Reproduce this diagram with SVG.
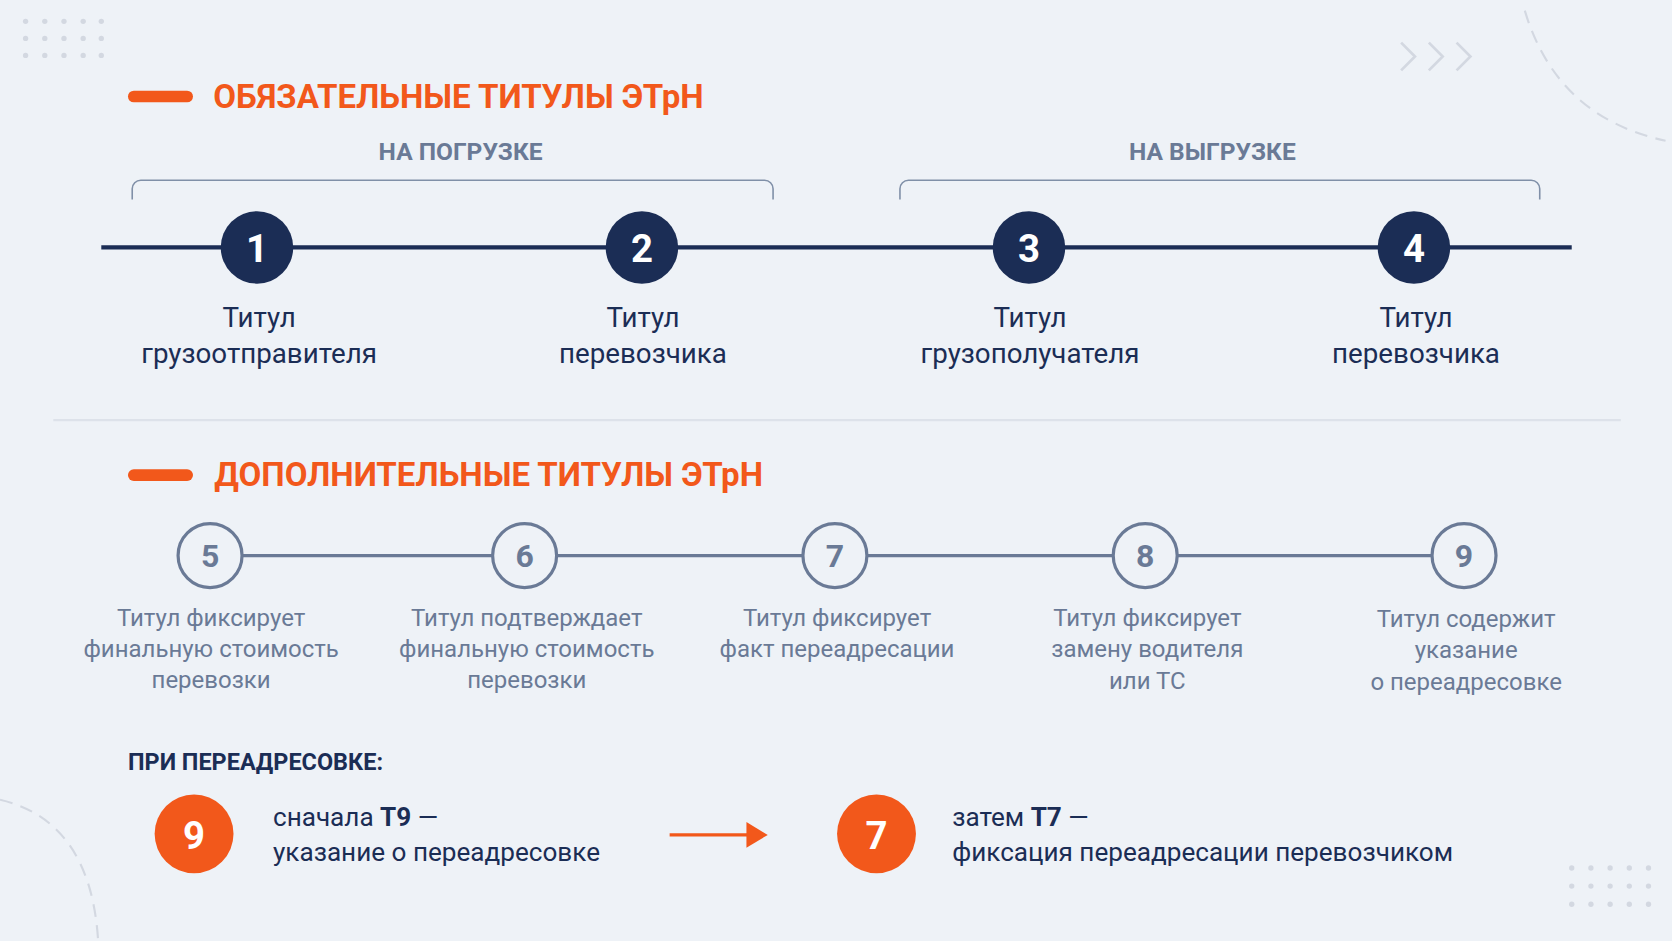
<svg xmlns="http://www.w3.org/2000/svg" width="1672" height="941" viewBox="0 0 1672 941">
<style>
.t{font-family:Roboto,"Liberation Sans",sans-serif}
.h{font-weight:700;font-size:31px;fill:#f2581b}
.sub{font-weight:700;font-size:23px;fill:#6a7a96;text-anchor:middle}
.lb{font-size:26px;fill:#1b2d55;text-anchor:middle}
.lb2{font-size:22.5px;fill:#6a7a96;text-anchor:middle}
.nd{fill:#1b2d55}
.nn{font-weight:700;font-size:36px;fill:#fff;text-anchor:middle}
.oc{fill:#eef2f7;stroke:#6a7a96;stroke-width:3}
.on{font-weight:700;font-size:30px;fill:#6a7a96;text-anchor:middle}
.dot{fill:#d3d8e1}
</style>
<rect width="1672" height="941" fill="#eef2f7"/>
<g transform="scale(1.0663)">
<g id="decor" fill="none">
<g class="dot">
<circle cx="24" cy="20" r="2.5"/><circle cx="42" cy="20" r="2.5"/><circle cx="60" cy="20" r="2.5"/><circle cx="78" cy="20" r="2.5"/><circle cx="95" cy="20" r="2.5"/>
<circle cx="24" cy="36" r="2.5"/><circle cx="42" cy="36" r="2.5"/><circle cx="60" cy="36" r="2.5"/><circle cx="78" cy="36" r="2.5"/><circle cx="95" cy="36" r="2.5"/>
<circle cx="24" cy="52" r="2.5"/><circle cx="42" cy="52" r="2.5"/><circle cx="60" cy="52" r="2.5"/><circle cx="78" cy="52" r="2.5"/><circle cx="95" cy="52" r="2.5"/>
<circle cx="1474" cy="814" r="2.5"/><circle cx="1492" cy="814" r="2.5"/><circle cx="1510" cy="814" r="2.5"/><circle cx="1528" cy="814" r="2.5"/><circle cx="1546" cy="814" r="2.5"/>
<circle cx="1474" cy="831" r="2.5"/><circle cx="1492" cy="831" r="2.5"/><circle cx="1510" cy="831" r="2.5"/><circle cx="1528" cy="831" r="2.5"/><circle cx="1546" cy="831" r="2.5"/>
<circle cx="1474" cy="848" r="2.5"/><circle cx="1492" cy="848" r="2.5"/><circle cx="1510" cy="848" r="2.5"/><circle cx="1528" cy="848" r="2.5"/><circle cx="1546" cy="848" r="2.5"/>
</g>
<path d="M1314 40l13 13-13 13M1340 40l13 13-13 13M1366 40l13 13-13 13" stroke="#d3d8e1" stroke-width="2.5"/>
<path d="M1430 10Q1460 110 1562 132" stroke="#d3d8e1" stroke-width="2" stroke-dasharray="12 8"/>
<path d="M0 750Q85 770 92 882" stroke="#d3d8e1" stroke-width="2" stroke-dasharray="12 8"/>
<line x1="50" y1="394" x2="1520" y2="394" stroke="#dde2ea" stroke-width="2"/>
</g>
<g id="headers">
<rect x="120" y="85" width="61" height="11" rx="5.5" fill="#f2581b"/>
<text class="t h" x="200" y="101">ОБЯЗАТЕЛЬНЫЕ ТИТУЛЫ ЭТрН</text>
<rect x="120" y="440" width="61" height="11" rx="5.5" fill="#f2581b"/>
<text class="t h" x="201" y="456">ДОПОЛНИТЕЛЬНЫЕ ТИТУЛЫ ЭТрН</text>
<text class="t sub" x="432" y="150">НА ПОГРУЗКЕ</text>
<text class="t sub" x="1137" y="150">НА ВЫГРУЗКЕ</text>
<path d="M124 187v-10a8 8 0 0 1 8-8h585a8 8 0 0 1 8 8v10M844 187v-10a8 8 0 0 1 8-8h584a8 8 0 0 1 8 8v10" fill="none" stroke="#8090a8" stroke-width="1.5"/>
</g>
<g id="connectors">
<line x1="95" y1="232" x2="1474" y2="232" stroke="#1b2d55" stroke-width="4"/>
<line x1="197" y1="521" x2="1373" y2="521" stroke="#6a7a96" stroke-width="3"/>
<line x1="628" y1="783" x2="708" y2="783" stroke="#f2581b" stroke-width="3"/>
<path d="M700 771l20 12-20 12z" fill="#f2581b"/>
</g>
<g id="n1"><circle class="nd" cx="241" cy="232" r="34"/><text class="t nn" x="241" y="246">1</text><text class="t lb" x="243" y="307">Титул</text><text class="t lb" x="243" y="340">грузоотправителя</text></g>
<g id="n2"><circle class="nd" cx="602" cy="232" r="34"/><text class="t nn" x="602" y="246">2</text><text class="t lb" x="603" y="307">Титул</text><text class="t lb" x="603" y="340">перевозчика</text></g>
<g id="n3"><circle class="nd" cx="965" cy="232" r="34"/><text class="t nn" x="965" y="246">3</text><text class="t lb" x="966" y="307">Титул</text><text class="t lb" x="966" y="340">грузополучателя</text></g>
<g id="n4"><circle class="nd" cx="1326" cy="232" r="34"/><text class="t nn" x="1326" y="246">4</text><text class="t lb" x="1328" y="307">Титул</text><text class="t lb" x="1328" y="340">перевозчика</text></g>
<g id="n5"><circle class="oc" cx="197" cy="521" r="30"/><text class="t on" x="197" y="532">5</text><text class="t lb2" x="198" y="587">Титул фиксирует</text><text class="t lb2" x="198" y="616">финальную стоимость</text><text class="t lb2" x="198" y="645">перевозки</text></g>
<g id="n6"><circle class="oc" cx="492" cy="521" r="30"/><text class="t on" x="492" y="532">6</text><text class="t lb2" x="494" y="587">Титул подтверждает</text><text class="t lb2" x="494" y="616">финальную стоимость</text><text class="t lb2" x="494" y="645">перевозки</text></g>
<g id="n7"><circle class="oc" cx="783" cy="521" r="30"/><text class="t on" x="783" y="532">7</text><text class="t lb2" x="785" y="587">Титул фиксирует</text><text class="t lb2" x="785" y="616">факт переадресации</text></g>
<g id="n8"><circle class="oc" cx="1074" cy="521" r="30"/><text class="t on" x="1074" y="532">8</text><text class="t lb2" x="1076" y="587">Титул фиксирует</text><text class="t lb2" x="1076" y="616">замену водителя</text><text class="t lb2" x="1076" y="646">или ТС</text></g>
<g id="n9"><circle class="oc" cx="1373" cy="521" r="30"/><text class="t on" x="1373" y="532">9</text><text class="t lb2" x="1375" y="588">Титул содержит</text><text class="t lb2" x="1375" y="617">указание</text><text class="t lb2" x="1375" y="647">о переадресовке</text></g>
<g id="redirect">
<text class="t" x="120" y="722" font-weight="700" font-size="22" fill="#1b2d55">ПРИ ПЕРЕАДРЕСОВКЕ:</text>
<circle cx="182" cy="782" r="37" fill="#f2581b"/><text class="t nn" x="182" y="796">9</text>
<text class="t" x="256" y="775" font-size="24.5" fill="#1b2d55">сначала <tspan font-weight="700">Т9</tspan> —</text>
<text class="t" x="256" y="807" font-size="24.5" fill="#1b2d55">указание о переадресовке</text>
<circle cx="822" cy="782" r="37" fill="#f2581b"/><text class="t nn" x="822" y="796">7</text>
<text class="t" x="893" y="775" font-size="24.5" fill="#1b2d55">затем <tspan font-weight="700">Т7</tspan> —</text>
<text class="t" x="893" y="807" font-size="24.5" fill="#1b2d55">фиксация переадресации перевозчиком</text>
</g>
</g>
</svg>
